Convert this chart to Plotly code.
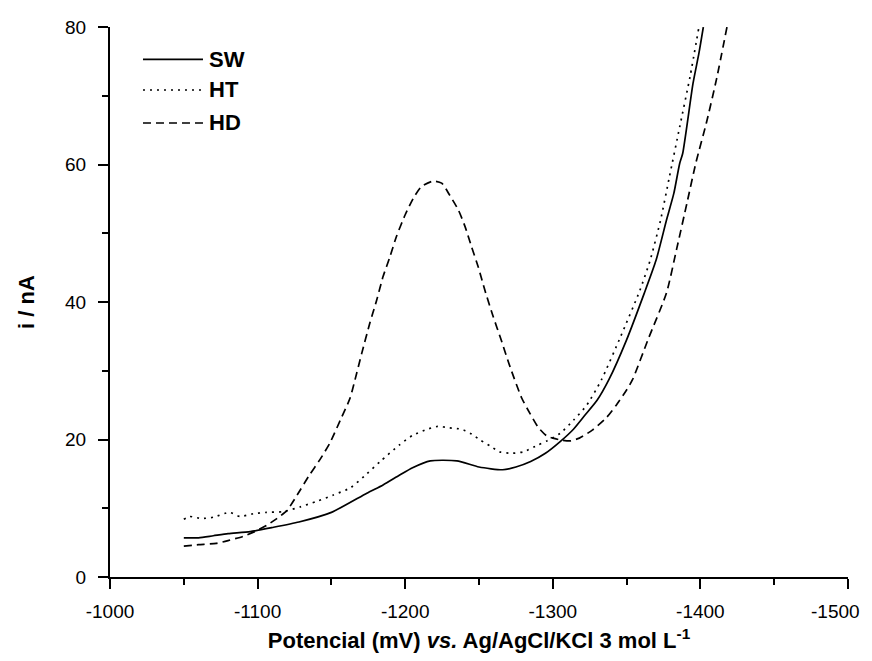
import plotly.graph_objects as go

# --- data ---
sw_x = [-1050, -1060, -1070, -1080, -1095, -1110, -1128, -1150, -1174, -1185, -1196, -1205,
        -1217, -1235, -1250, -1266, -1275, -1285, -1295, -1305, -1314, -1322, -1330, -1338,
        -1350, -1362, -1370, -1377, -1382, -1386, -1388, -1395, -1399, -1402]
sw_y = [5.7, 5.7, 6.0, 6.3, 6.6, 7.2, 8.0, 9.4, 12.2, 13.4, 14.8, 15.9,
        16.9, 16.9, 16.0, 15.6, 16.0, 16.8, 18.0, 19.7, 21.5, 23.6, 25.7, 28.7,
        34.5, 41.3, 46.1, 51.9, 55.8, 60.2, 61.6, 71.8, 76.2, 80.0]

ht_x = [-1050, -1054, -1062, -1070, -1081, -1088, -1097, -1106, -1117, -1129, -1140, -1151,
        -1163, -1174, -1183, -1196, -1205, -1215, -1222, -1230, -1238, -1245, -1251, -1258,
        -1264, -1272, -1280, -1290, -1296, -1305, -1314, -1323, -1333, -1346, -1359, -1366,
        -1373, -1379, -1386, -1393, -1399]
ht_y = [8.4, 8.8, 8.5, 8.7, 9.4, 8.8, 9.2, 9.4, 9.5, 10.2, 11.0, 11.9,
        13.0, 15.0, 16.8, 19.2, 20.6, 21.5, 21.9, 21.7, 21.5, 20.8, 19.9, 19.0,
        18.2, 18.0, 18.2, 19.2, 19.8, 20.9, 22.8, 25.0, 28.7, 35.0, 41.7, 46.1,
        51.9, 58.2, 65.5, 72.8, 80.0]

hd_x = [-1050, -1060, -1072, -1080, -1090, -1098, -1106, -1113, -1120, -1129, -1135, -1142,
        -1149, -1156, -1162.6, -1166, -1170.5, -1176, -1180.7, -1185, -1189.7, -1194, -1200,
        -1205.5, -1211, -1219, -1224.7, -1230, -1236, -1240.5, -1245, -1249.5, -1254, -1259.6,
        -1265, -1271, -1279, -1284.5, -1290, -1296, -1300, -1306, -1312, -1318, -1327, -1336,
        -1343, -1350, -1354, -1365, -1377, -1384, -1391, -1397, -1404, -1411, -1418]
hd_y = [4.5, 4.7, 4.9, 5.3, 5.9, 6.6, 7.5, 8.5, 9.7, 12.7, 14.8, 17.0,
        19.5, 22.8, 26.0, 28.7, 32.5, 36.9, 40.3, 43.7, 46.6, 49.5, 52.7,
        55.1, 56.8, 57.6, 57.3, 55.6, 53.4, 51.0, 48.0, 45.1, 41.7, 37.9,
        34.5, 30.6, 26.0, 23.8, 21.8, 20.5, 20.2, 19.9, 19.8, 20.2, 21.4, 23.1,
        25.0, 27.2, 28.7, 34.8, 41.3, 47.8, 54.5, 60.3, 66.0, 72.5, 80.0]

series_names = ["SW", "HT", "HD"]
x_tickvals = [-1000, -1100, -1200, -1300, -1400, -1500]
x_ticktext = ["-1000", "-1100", "-1200", "-1300", "-1400", "-1500"]
y_tickvals = [0, 20, 40, 60, 80]
y_ticktext = ["0", "20", "40", "60", "80"]

FONT = "Liberation Sans, Arial, sans-serif"
DOT = "2px,5px"
DASH = "8px,5px"
styles = {"SW": "solid", "HT": DOT, "HD": DASH}

# the last label sits at the very edge of the window: it is drawn as an annotation
# anchored on its tick value, nudged left so that it stays fully visible
x_ticklabels = x_ticktext[:-1] + [""]

fig = go.Figure()
for name, xs, ys in [("SW", sw_x, sw_y), ("HT", ht_x, ht_y), ("HD", hd_x, hd_y)]:
    fig.add_trace(go.Scatter(x=xs, y=ys, mode="lines", name=name, showlegend=False,
                             line=dict(color="black", width=1.7, dash=styles[name],
                                       shape="spline", smoothing=0.6)))

fig.add_annotation(xref="x", yref="paper", x=x_tickvals[-1], y=0, text=x_ticktext[-1],
                   showarrow=False, xanchor="center", yanchor="middle", xshift=-12, yshift=-34,
                   font=dict(family=FONT, size=19, color="black"))

# manual legend (long line samples as in the reference)
leg_y = [0.941, 0.8855, 0.8255]
for name, yy in zip(series_names, leg_y):
    fig.add_shape(type="line", xref="paper", yref="paper", x0=0.0447, x1=0.126, y0=yy, y1=yy,
                  line=dict(color="black", width=1.7, dash=styles[name]))
    fig.add_annotation(xref="paper", yref="paper", x=0.132, y=yy, text="<b>%s</b>" % name,
                       showarrow=False, xanchor="left", yanchor="middle",
                       font=dict(family=FONT, size=22, color="black"))

axis_common = dict(showline=True, linewidth=2, linecolor="black", showgrid=False, zeroline=False,
                   ticks="outside", ticklen=10, tickwidth=2, tickcolor="black", automargin=False,
                   ticklabeloverflow="allow",
                   tickfont=dict(family=FONT, size=19, color="black"))

fig.update_xaxes(range=[-999.99, -1500.01], tickvals=x_tickvals, ticktext=x_ticklabels, ticklabelstandoff=6,
                 minor=dict(ticks="outside", ticklen=6, tickwidth=2, tickcolor="black", dtick=50, tick0=-1000),
                 title=dict(text="<b>Potencial (mV) <i>vs.</i> Ag/AgCl/KCl 3 mol L<sup>-1</sup></b>",
                            font=dict(family=FONT, size=22, color="black"), standoff=15),
                 **axis_common)
fig.update_yaxes(range=[0, 80.01], tickvals=y_tickvals, ticktext=y_ticktext, ticklabelstandoff=8,
                 minor=dict(ticks="outside", ticklen=6, tickwidth=2, tickcolor="black", dtick=10, tick0=0),
                 title=dict(text="<b>i / nA</b>", font=dict(family=FONT, size=22, color="black"), standoff=24),
                 **axis_common)

# the page body adds an 8 px margin on every side, so the figure is sized to fit
# the 872x661 window without scrollbars
fig.update_layout(width=864, height=645, margin=dict(l=102, r=24, t=19, b=76),
                  plot_bgcolor="white", paper_bgcolor="white",
                  font=dict(family=FONT, color="black"))

fig.write_html("out.html")
